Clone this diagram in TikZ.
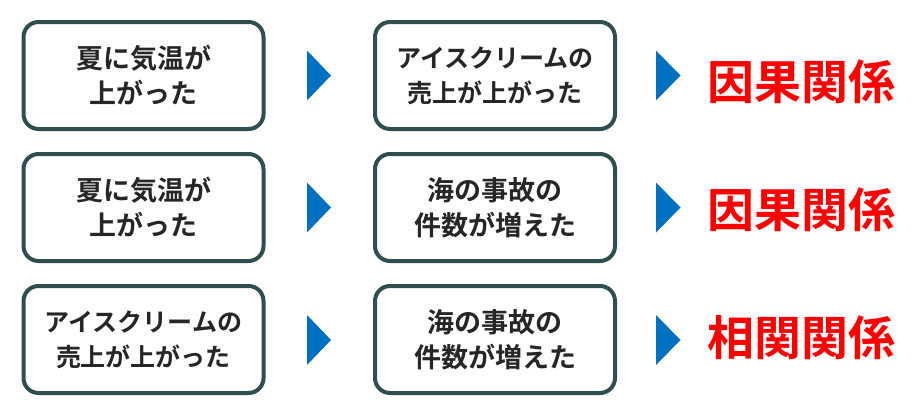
\documentclass[tikz,border=0pt]{standalone}
\usepackage{fontspec}
\newfontfamily\jp{Noto Sans CJK JP}[BoldFont={Noto Sans CJK JP Bold}]
\definecolor{boxline}{RGB}{47,79,79}
\definecolor{arrblue}{RGB}{0,112,192}
\definecolor{txt}{RGB}{38,38,38}
\definecolor{redt}{RGB}{255,0,0}
\begin{document}
\begin{tikzpicture}[x=1pt,y=-1pt,
  box/.style={draw=boxline,line width=4pt,rounded corners=15pt,fill=white,
    minimum width=240pt,minimum height=107pt,inner sep=0pt,align=center,
    text=txt,font=\jp\bfseries\fontsize{27}{35}\selectfont},
  smalltxt/.style={font=\jp\bfseries\fontsize{25}{35}\selectfont},
  tri/.style={fill=arrblue,draw=none},
  res/.style={text=redt,font=\jp\bfseries\fontsize{47}{50}\selectfont,inner sep=0pt}]
\useasboundingbox (0,0) rectangle (919,418);
% row 1
\node[box] (a1) at (143.5,75.5) {夏に気温が\\上がった};
\node[box,smalltxt] (b1) at (495,75.5) {アイスクリームの\\売上が上がった};
\node[res] (c1) at (801,82) {因果関係};
% row 2
\node[box] (a2) at (143.5,207.5) {夏に気温が\\上がった};
\node[box] (b2) at (495,207.5) {海の事故の\\件数が増えた};
\node[res] (c2) at (801,210) {因果関係};
% row 3
\node[box,smalltxt] (a3) at (143.5,339.5) {アイスクリームの\\売上が上がった};
\node[box] (b3) at (495,339.5) {海の事故の\\件数が増えた};
\node[res] (c3) at (801,338) {相関関係};
% triangles
\foreach \r/\y in {1/75.5,2/207.5,3/340}{
  \fill[tri] (307,\y-25) -- (331,\y) -- (307,\y+25) -- cycle;
  \fill[tri] (656,\y-25) -- (680.5,\y) -- (656,\y+25) -- cycle;
}
\end{tikzpicture}
\end{document}
